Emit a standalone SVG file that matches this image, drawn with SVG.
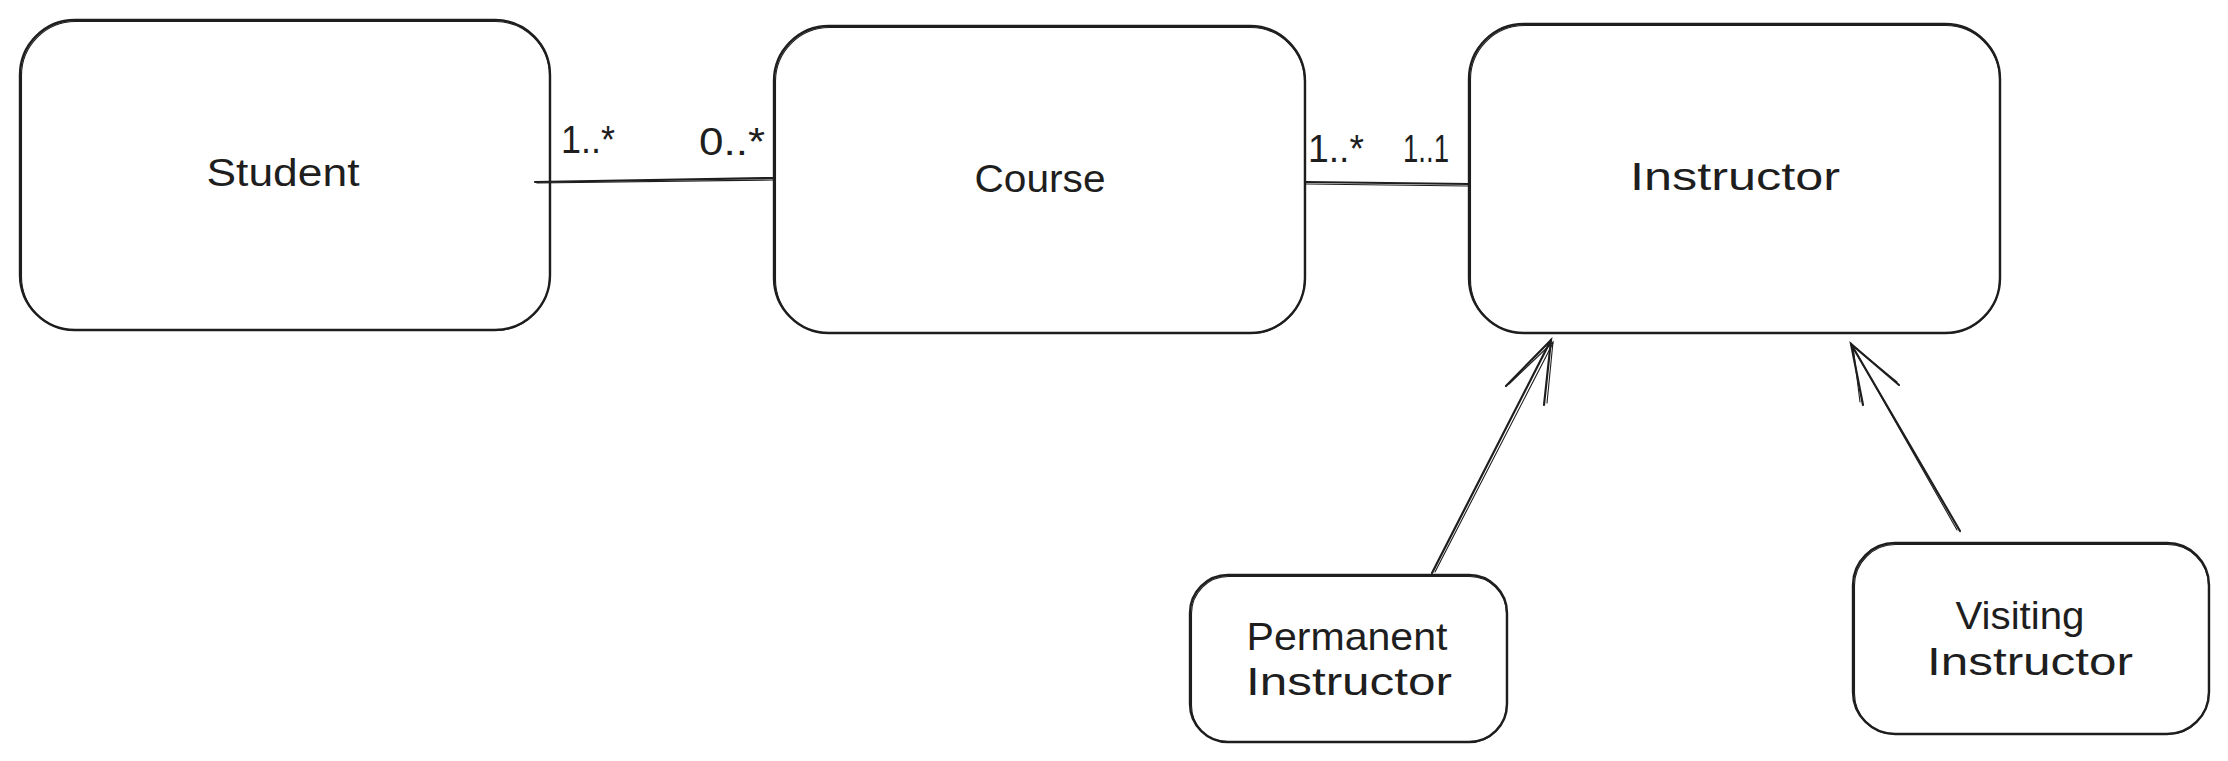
<svg xmlns="http://www.w3.org/2000/svg" width="2228" height="761" viewBox="0 0 2228 761">
  <style>
    .box { fill: #ffffff; stroke: #1e1e1e; stroke-width: 2.4; }
    .box2 { fill: none; stroke: #1e1e1e; stroke-width: 1.1; }
    .edge { fill: none; stroke: #1e1e1e; stroke-width: 2.2; stroke-linecap: round; }
    .edge2 { fill: none; stroke: #1e1e1e; stroke-width: 1.1; stroke-linecap: round; }
    .lbl { font-family: "Liberation Sans", Arial, sans-serif; font-size: 39px; fill: #1e1e1e; text-anchor: middle; }
  </style>
  <rect width="2228" height="761" fill="#ffffff"/>

  <g id="student">
    <rect class="box" x="20" y="20" width="530" height="310" rx="55"/>
    <rect class="box2" x="21.5" y="21.5" width="528" height="309" rx="54"/>
    <text class="lbl" x="283" y="186" textLength="153" lengthAdjust="spacingAndGlyphs">Student</text>
  </g>

  <g id="course">
    <rect class="box" x="774" y="26" width="531" height="307" rx="55"/>
    <rect class="box2" x="775.5" y="27.5" width="529" height="306" rx="54"/>
    <text class="lbl" x="1040" y="192" textLength="131" lengthAdjust="spacingAndGlyphs">Course</text>
  </g>

  <g id="instructor">
    <rect class="box" x="1469" y="24" width="531" height="309" rx="55"/>
    <rect class="box2" x="1470.5" y="25.5" width="529" height="308" rx="54"/>
    <text class="lbl" x="1735" y="190" textLength="210" lengthAdjust="spacingAndGlyphs">Instructor</text>
  </g>

  <g id="permanent">
    <rect class="box" x="1190" y="575" width="317" height="167" rx="38"/>
    <rect class="box2" x="1191.5" y="576.5" width="315" height="166" rx="37"/>
    <text class="lbl" x="1347" y="650" textLength="201" lengthAdjust="spacingAndGlyphs">Permanent</text>
    <text class="lbl" x="1349" y="695" textLength="206" lengthAdjust="spacingAndGlyphs">Instructor</text>
  </g>

  <g id="visiting">
    <rect class="box" x="1853" y="543" width="356" height="191" rx="42"/>
    <rect class="box2" x="1854.5" y="544.5" width="354" height="190" rx="41"/>
    <text class="lbl" x="2020" y="629" textLength="129" lengthAdjust="spacingAndGlyphs">Visiting</text>
    <text class="lbl" x="2030" y="675" textLength="206" lengthAdjust="spacingAndGlyphs">Instructor</text>
  </g>

  <g id="connectors">
    <g id="student-course">
      <path class="edge" d="M535 182 L775 178"/>
      <path class="edge2" d="M537 183 L774 180"/>
      <text class="lbl" x="588" y="153" textLength="54" lengthAdjust="spacingAndGlyphs">1..*</text>
      <text class="lbl" x="732" y="155" textLength="66" lengthAdjust="spacingAndGlyphs">0..*</text>
    </g>
    <g id="course-instructor">
      <path class="edge" d="M1305 182 L1469 184"/>
      <path class="edge2" d="M1306 184 L1468 186"/>
      <text class="lbl" x="1336" y="162" textLength="56" lengthAdjust="spacingAndGlyphs">1..*</text>
      <text class="lbl" x="1426" y="162" textLength="46" lengthAdjust="spacingAndGlyphs">1..1</text>
    </g>
    <g id="permanent-instructor">
      <path class="edge" d="M1432 573 L1551 340"/>
      <path class="edge2" d="M1435 572 L1553 343"/>
      <path class="edge" d="M1506 386 L1551 340 L1544 405"/>
      <path class="edge2" d="M1509 384 L1553 342 L1547 403"/>
    </g>
    <g id="visiting-instructor">
      <path class="edge" d="M1960 531 L1851 344"/>
      <path class="edge2" d="M1957 530 L1853 347"/>
      <path class="edge" d="M1899 385 L1851 344 L1863 405"/>
      <path class="edge2" d="M1897 382 L1853 346 L1860 402"/>
    </g>
  </g>
</svg>
